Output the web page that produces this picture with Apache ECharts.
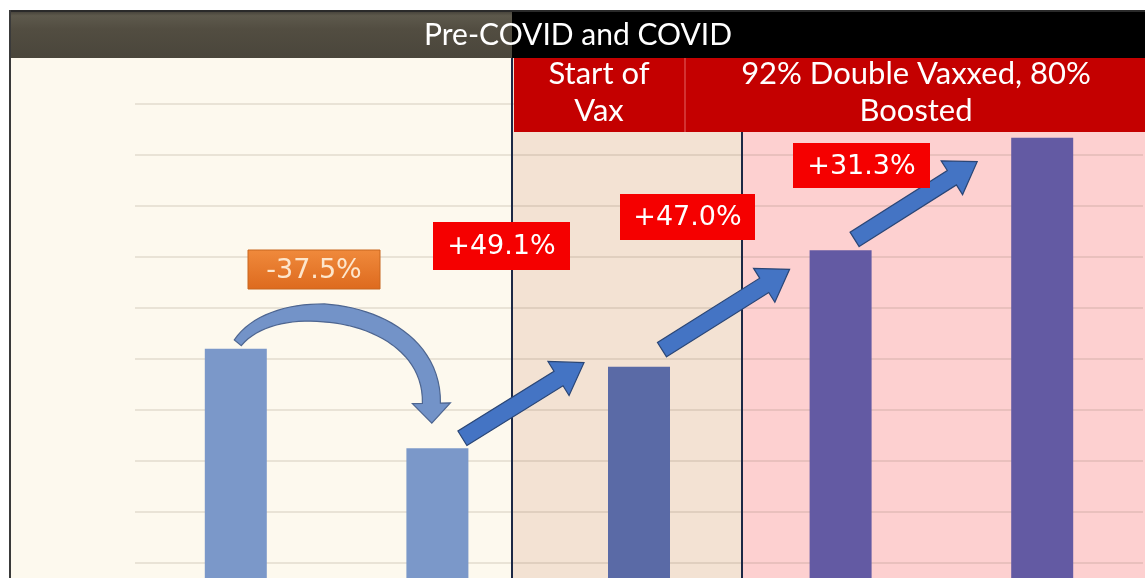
<!DOCTYPE html>
<html>
<head>
<meta charset="utf-8">
<script src="https://cdn.jsdelivr.net/npm/echarts@6/dist/echarts.min.js"></script>
<style>html,body{margin:0;padding:0;background:#fff;}#c{width:1145px;height:578px;}</style>
</head>
<body>
<div id="c"></div>
<script>
// ---- data ----
const categories = ['Period 1', 'Period 2', 'Period 3', 'Period 4', 'Period 5'];
const values = [5.2, 3.25, 4.85, 7.13, 9.34];
const changeLabels = ['-37.5%', '+49.1%', '+47.0%', '+31.3%'];
const titleText = 'Pre-COVID and COVID';
const bannerTexts = ['Start of\nVax', '92% Double Vaxxed, 80%\nBoosted'];

// ---- styles ----
const barColors = ['#7b98c9', '#7b98c9', '#5a6aa6', '#635aa3', '#635aa3'];

const chart = echarts.init(document.getElementById('c'), null, {renderer: 'canvas'});

function bg() {
  return [
    {type: 'rect', z: -20, shape: {x: 9, y: 58, width: 503, height: 530}, style: {fill: '#fdf9ee'}},
    {type: 'rect', z: -20, shape: {x: 512, y: 58, width: 230, height: 530}, style: {fill: '#f3e2d3'}},
    {type: 'rect', z: -20, shape: {x: 742, y: 58, width: 410, height: 530}, style: {fill: '#fdd0d0'}},
  ];
}

const option = {
  backgroundColor: '#ffffff',
  animation: false,
  grid: {left: 135, top: 53, height: 561, width: 1008, outerBoundsMode: 'none'},
  xAxis: {
    type: 'category', data: categories,
    axisLine: {show: false}, axisTick: {show: false}, axisLabel: {show: false}
  },
  yAxis: {
    type: 'value', min: 0, max: 11, interval: 1,
    axisLine: {show: false}, axisTick: {show: false}, axisLabel: {show: false},
    splitLine: {lineStyle: {color: 'rgba(120,100,80,0.15)', width: 2}}
  },
  series: [{
    type: 'bar', barWidth: 62,
    data: values.map((v, i) => ({value: v, itemStyle: {color: barColors[i]}}))
  }],
  graphic: bg()
};
chart.setOption(option);

function px(i) { return chart.convertToPixel({gridIndex: 0}, [i, values[i]]); }
function add(p, d) { return [p[0] + d[0], p[1] + d[1]]; }

function arrowPoints(pts, wTail, wHead, headW, headL) {
  const n = pts.length;
  const a = pts[n - 2], b = pts[n - 1];
  let dx = b[0] - a[0], dy = b[1] - a[1];
  const L = Math.hypot(dx, dy); dx /= L; dy /= L;
  const tip = [b[0] + dx * headL, b[1] + dy * headL];
  const left = [], right = [];
  for (let i = 0; i < n; i++) {
    const p = pts[i];
    const q0 = pts[Math.max(0, i - 1)], q1 = pts[Math.min(n - 1, i + 1)];
    let tx = q1[0] - q0[0], ty = q1[1] - q0[1];
    const tl = Math.hypot(tx, ty); tx /= tl; ty /= tl;
    const nx = -ty, ny = tx;
    const w = wTail + (wHead - wTail) * Math.min(1, i / (n - 1) * 2.5);
    left.push([p[0] + nx * w / 2, p[1] + ny * w / 2]);
    right.push([p[0] - nx * w / 2, p[1] - ny * w / 2]);
  }
  const nx = -dy, ny = dx;
  return left.concat([[b[0] + nx * headW / 2, b[1] + ny * headW / 2], tip,
    [b[0] - nx * headW / 2, b[1] - ny * headW / 2]], right.reverse());
}
function straightArrow(tail, tip, w, headW, headL) {
  let dx = tip[0] - tail[0], dy = tip[1] - tail[1];
  const L = Math.hypot(dx, dy); dx /= L; dy /= L;
  const base = [tip[0] - dx * headL, tip[1] - dy * headL];
  return arrowPoints([tail, base], w, w, headW, headL);
}
function cubic(P0, P1, P2, P3, n) {
  const out = [];
  for (let k = 0; k <= n; k++) {
    const t = k / n, u = 1 - t;
    out.push([
      u*u*u*P0[0] + 3*u*u*t*P1[0] + 3*u*t*t*P2[0] + t*t*t*P3[0],
      u*u*u*P0[1] + 3*u*u*t*P1[1] + 3*u*t*t*P2[1] + t*t*t*P3[1]
    ]);
  }
  return out;
}

function draw() {
  const b = values.map((v, i) => px(i));
  const els = bg();
  // header
  els.push({type: 'rect', z: 50, shape: {x: 9, y: 10, width: 503, height: 48},
    style: {fill: new echarts.graphic.LinearGradient(0, 0, 0, 1, [
      {offset: 0, color: '#3e3b34'}, {offset: 0.12, color: '#5d594c'}, {offset: 0.4, color: '#524d41'}, {offset: 1, color: '#4a463b'}])}});
  els.push({type: 'rect', z: 50, shape: {x: 512, y: 10, width: 640, height: 48}, style: {fill: '#000000'}});
  els.push({type: 'line', z: 51, shape: {x1: 9, y1: 11, x2: 1145, y2: 11}, style: {stroke: '#2a2a2a', lineWidth: 2}});
  els.push({type: 'line', z: 51, shape: {x1: 10, y1: 10, x2: 10, y2: 578}, style: {stroke: '#3a3a3a', lineWidth: 2}});
  els.push({type: 'text', z: 52, x: 578, y: 35, style: {text: titleText, fill: '#ffffff',
    font: '30px Lato', align: 'center', verticalAlign: 'middle'}});
  // vertical dividers
  els.push({type: 'line', z: 5, shape: {x1: 512, y1: 58, x2: 512, y2: 578}, style: {stroke: '#1c2846', lineWidth: 2}});
  els.push({type: 'line', z: 5, shape: {x1: 742, y1: 58, x2: 742, y2: 578}, style: {stroke: '#1c2846', lineWidth: 2}});
  // banner
  els.push({type: 'rect', z: 50, shape: {x: 514, y: 58, width: 640, height: 74}, style: {fill: '#c40000'}});
  els.push({type: 'line', z: 51, shape: {x1: 685, y1: 58, x2: 685, y2: 132}, style: {stroke: 'rgba(255,200,200,0.5)', lineWidth: 1}});
  els.push({type: 'text', z: 52, x: 599, y: 92, style: {text: bannerTexts[0], fill: '#ffffff',
    font: '31px Lato', align: 'center', verticalAlign: 'middle', lineHeight: 37}});
  els.push({type: 'text', z: 52, x: 916, y: 92, style: {text: bannerTexts[1], fill: '#ffffff',
    font: '31px Lato', align: 'center', verticalAlign: 'middle', lineHeight: 37}});

  // curved arrow bar1 -> bar2
  const P0 = add(b[0], [2, -6]);
  const P3 = add(b[1], [-6, -45]);
  const P1 = add(P0, [40, -55]);
  const P2 = add(P3, [2, -95]);
  els.push({type: 'polygon', z: 30, shape: {points: arrowPoints(cubic(P0, P1, P2, P3, 40), 9, 18, 38, 20)},
    style: {fill: '#7393c8', stroke: '#4d6590', lineWidth: 1.2}});
  // straight arrows
  const sa = [
    [add(b[1], [25, -10]), add(b[2], [-55, -4])],
    [add(b[2], [23, -17]), add(b[3], [-51, 19])],
    [add(b[3], [14, -11]), add(b[4], [-65, 24])]
  ];
  sa.forEach(([t, h]) => {
    els.push({type: 'polygon', z: 30, shape: {points: straightArrow(t, h, 17, 40, 30)},
      style: {fill: '#4474c4', stroke: '#2a4676', lineWidth: 1.2}});
  });

  // change labels
  const boxes = [
    {x: 248, y: 250, w: 132, h: 39, orange: true},
    {x: 433, y: 222, w: 137, h: 48},
    {x: 620, y: 194, w: 135, h: 46},
    {x: 793, y: 143, w: 137, h: 45}
  ];
  boxes.forEach((bx, i) => {
    els.push({type: 'rect', z: 40, shape: {x: bx.x, y: bx.y, width: bx.w, height: bx.h},
      style: {fill: bx.orange ? new echarts.graphic.LinearGradient(0, 0, 0, 1, [
        {offset: 0, color: '#f08a3c'}, {offset: 1, color: '#dd6a1e'}]) : '#f50000',
        stroke: bx.orange ? '#c8661e' : null, lineWidth: 1}});
    els.push({type: 'text', z: 41, x: bx.x + bx.w / 2, y: bx.y + bx.h / 2 + 1,
      style: {text: changeLabels[i], fill: bx.orange ? '#fde6cc' : '#ffffff',
        font: '27px "DejaVu Sans"', align: 'center', verticalAlign: 'middle'}});
  });

  chart.setOption({graphic: els}, {replaceMerge: ['graphic']});
}
draw();
</script>
</body>
</html>
